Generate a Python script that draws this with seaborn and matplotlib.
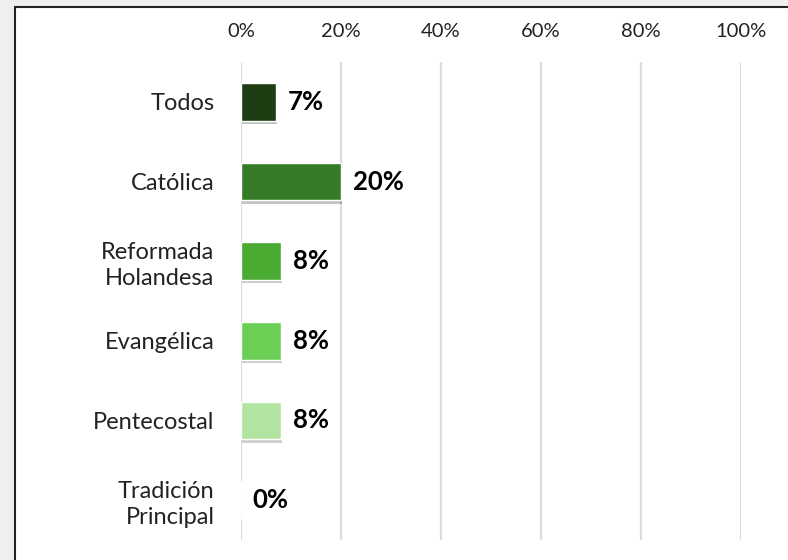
import matplotlib
matplotlib.use("Agg")
import matplotlib.pyplot as plt
import matplotlib.patheffects as pe
from matplotlib.patches import Rectangle
import seaborn as sns
import pandas as pd

# data
categories = ["Todos", "Católica", "Reformada\nHolandesa", "Evangélica",
              "Pentecostal", "Tradición\nPrincipal"]
values = [7, 20, 8, 8, 8, 0]
bar_colors = ["#1f3d13", "#367b27", "#4aab33", "#6ccf55", "#b2e4a1", "#b2e4a1"]
ticks = [0, 20, 40, 60, 80, 100]

df = pd.DataFrame({"grupo": categories, "pct": values})

sns.set_theme(style="white")
plt.rcParams["font.family"] = ["Lato", "DejaVu Sans"]

fig = plt.figure(figsize=(7.88, 5.60), dpi=100)
fig.patch.set_facecolor("#efefef")
# white card with a dark outline behind the chart
fig.add_artist(Rectangle((15 / 788, -0.05), 1.0, 1 - 7 / 560 + 0.05,
                         transform=fig.transFigure, facecolor="white",
                         edgecolor="#222222", linewidth=1.5, zorder=-1))

ax = fig.add_axes([241 / 788, 20 / 560, 500 / 788, 478 / 560])
ax.set_facecolor("none")

sns.barplot(data=df, y="grupo", x="pct", hue="grupo", palette=bar_colors,
            legend=False, width=0.47, ax=ax, zorder=3, saturation=1)

for bar in ax.patches:
    bar.set_path_effects([pe.SimplePatchShadow(offset=(1, -2.5), alpha=0.25),
                          pe.Normal()])

for cont in ax.containers:
    ax.bar_label(cont, labels=[f"{v:.0f}%" for v in cont.datavalues],
                 padding=8.5, fontsize=18.5, fontweight="bold",
                 color="black")

ax.set_xlim(0, 100)
ax.set_ylim(len(categories) - 0.5, -0.5)
ax.set_xticks(ticks)
ax.set_xticklabels([f"{t}%" for t in ticks])
ax.xaxis.tick_top()
ax.tick_params(axis="x", length=0, pad=16, labelsize=14.5, colors="#222222")
ax.tick_params(axis="y", length=0, pad=19, labelsize=17, colors="#222222")
for lab in ax.get_yticklabels():
    lab.set_multialignment("right")
    lab.set_linespacing(1.3)
ax.set_xlabel("")
ax.set_ylabel("")
ax.xaxis.grid(True, color="#dcdcdc", linewidth=1.6)
ax.set_axisbelow(True)
for s in ax.spines.values():
    s.set_visible(False)

fig.savefig("out.png", dpi=100, facecolor=fig.get_facecolor())
